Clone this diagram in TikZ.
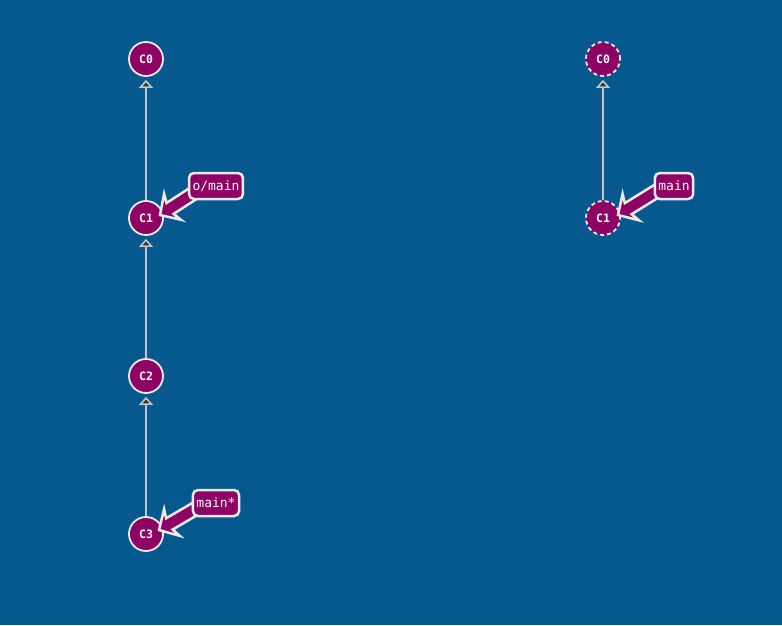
\documentclass[tikz,border=0pt]{standalone}
\usepackage{fontspec}
\setmonofont{DejaVu Sans Mono}
\usetikzlibrary{arrows.meta,calc}
\definecolor{bg}{HTML}{05598F}
\definecolor{cm}{HTML}{8E0064}
\definecolor{rim}{HTML}{EBEBEB}
\definecolor{edgec}{HTML}{C4C4C4}
\definecolor{tipin}{HTML}{333333}
\tikzset{
 commit/.style={circle,draw=rim,fill=cm,line width=1.8pt,minimum size=34pt,inner sep=0pt,text=white,font=\ttfamily\bfseries\fontsize{11.5}{11.5}\selectfont},
 ghost/.style={commit,dash pattern=on 4pt off 3pt},
 parent/.style={draw=edgec,line width=1.6pt,-{Triangle[fill=tipin,width=14pt,length=8pt]},shorten >=3pt},
 reflabel/.style={rounded corners=5pt,draw=rim,fill=cm,line width=2.5pt,text=white,font=\ttfamily\fontsize{13}{13}\selectfont,minimum height=26pt,inner xsep=3.5pt},
 refptr/.style={fill=cm,draw=rim,line width=2.5pt,line join=miter}
}
\newcommand\refarrow[2]{%
 \coordinate (a1) at ($(#1)!12pt!(#2)$);
 \coordinate (a2) at ($(#1)!15pt!(#2)$);
 \draw[refptr] (#1) -- ($(a2)!15.5pt!90:(#2)$) -- ($(a1)!6.5pt!90:(#2)$)
   -- ($(#2)!6.5pt!-90:(#1)$) -- ($(#2)!6.5pt!90:(#1)$)
   -- ($(a1)!6.5pt!-90:(#2)$) -- ($(a2)!15.5pt!-90:(#2)$) -- cycle;
}
\begin{document}
\begin{tikzpicture}[x=1pt,y=-1pt]
\path[fill=bg] (0,0) rectangle (782,625);
% left graph
\node[commit] (c0) at (146,59) {C0};
\node[commit] (c1) at (146,218) {C1};
\node[commit] (c2) at (146,376) {C2};
\node[commit] (c3) at (146,534) {C3};
\draw[parent] (c1) -- (c0);
\draw[parent] (c2) -- (c1);
\draw[parent] (c3) -- (c2);
% right graph
\node[ghost] (rc0) at (603,59) {C0};
\node[ghost] (rc1) at (603,218) {C1};
\draw[parent] (rc1) -- (rc0);
% label positions
\path (216,186) coordinate (p1) (674,186) coordinate (p2) (216,503) coordinate (p3);
\coordinate (t1) at ($(c1.center)+(14,-3)$);
\coordinate (t2) at ($(rc1.center)+(15,-3)$);
\coordinate (t3) at ($(c3.center)+(13,-4)$);
\coordinate (e1) at ($(p1)+(-16,3)$);
\coordinate (e2) at ($(p2)+(-14,3)$);
\coordinate (e3) at ($(p3)+(-16,3)$);
\refarrow{t1}{e1}
\refarrow{t2}{e2}
\refarrow{t3}{e3}
\node[reflabel] (l1) at (p1) {o/main};
\node[reflabel] (l2) at (p2) {main};
\node[reflabel] (l3) at (p3) {main*};
\end{tikzpicture}
\end{document}
